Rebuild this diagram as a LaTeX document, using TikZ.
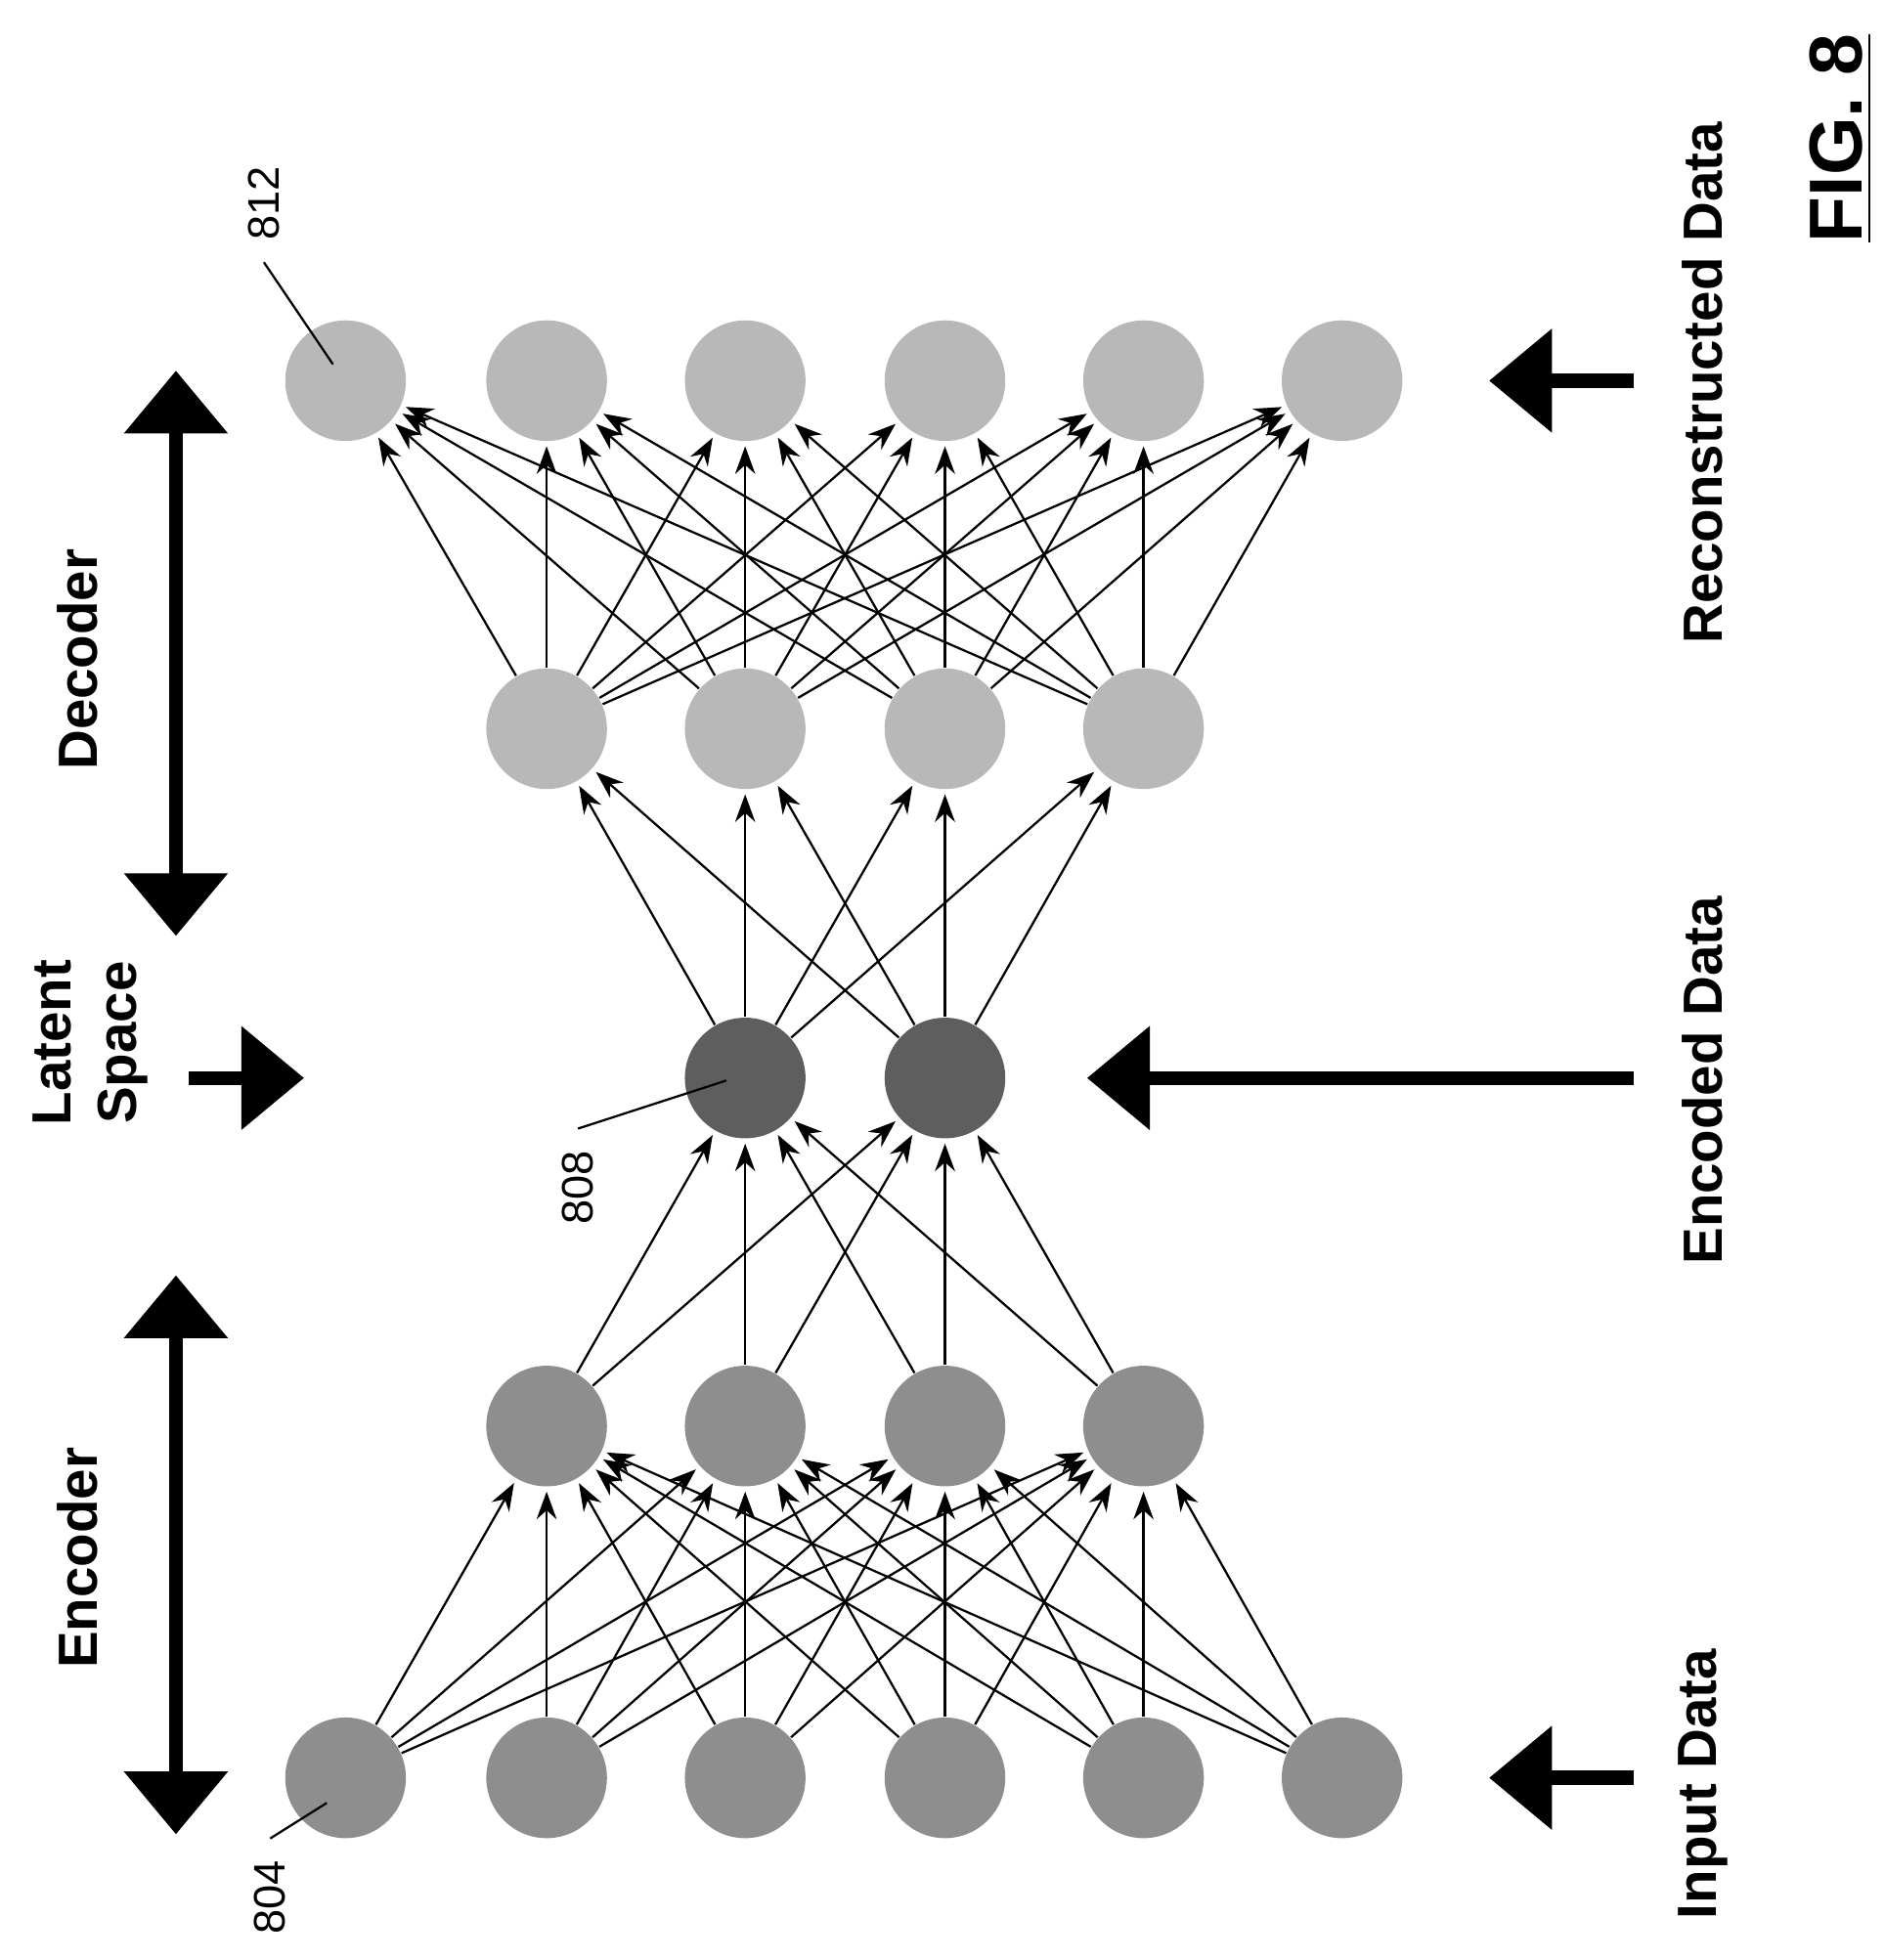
\documentclass[tikz,border=0pt]{standalone}
\usepackage{fontspec}
\setmainfont{Liberation Sans}
\usetikzlibrary{positioning}
\usetikzlibrary {arrows.meta}
\definecolor{encgray}{HTML}{8E8E8E}
\definecolor{latgray}{HTML}{5E5E5E}
\definecolor{decgray}{HTML}{B8B8B8}
\tikzset{neuron/.style={circle,draw=none,inner sep=0pt,minimum size=0.96cm}}
\tikzset{link/.style={line width=0.5pt,-{Stealth[length=2.2mm,width=1.6mm]},shorten >=1pt}}
\tikzset{bigarrow/.style={line width=3.2pt,-{Triangle[length=5mm,width=8mm]}}}
\tikzset{label/.style={rotate=90,font=\fontsize{12.5}{15}\selectfont\bfseries}}
\tikzset{refnum/.style={rotate=90,font=\fontsize{10}{12}\selectfont}}

\begin{document}
\begin{tikzpicture}
        \useasboundingbox (0,0) rectangle (15,-15.6);

        % layers
        \foreach \i/\x in {1/2.75,2/4.35,3/5.93,4/7.52,5/9.10,6/10.68} {
            \node[neuron,fill=encgray] (in\i) at (\x,-14.15) { };
            \node[neuron,fill=decgray] (out\i) at (\x,-3.03) { };
        }
        \foreach \i/\x in {1/4.35,2/5.93,3/7.52,4/9.10} {
            \node[neuron,fill=encgray] (enc\i) at (\x,-11.35) { };
            \node[neuron,fill=decgray] (dec\i) at (\x,-5.80) { };
        }
        \node[neuron,fill=latgray] (lat1) at (5.93,-8.58) { };
        \node[neuron,fill=latgray] (lat2) at (7.52,-8.58) { };

        % connections
        \foreach \i in {1,...,6} {
            \foreach \j in {1,...,4} {
                \draw [link] (in\i) -- (enc\j);
                \draw [link] (dec\j) -- (out\i);
            }
        }
        \foreach \j in {1,...,4} {
            \foreach \k in {1,2} {
                \draw [link] (enc\j) -- (lat\k);
                \draw [link] (lat\k) -- (dec\j);
            }
        }

        % left side
        \coordinate (encA) at (1.40,-10.15);
        \coordinate (encB) at (1.40,-14.60);
        \draw [line width=3.2pt,{Triangle[length=5mm,width=8mm]}-{Triangle[length=5mm,width=8mm]}] (encA) -- (encB);
        \coordinate (decA) at (1.40,-2.95);
        \coordinate (decB) at (1.40,-7.45);
        \draw [line width=3.2pt,{Triangle[length=5mm,width=8mm]}-{Triangle[length=5mm,width=8mm]}] (decA) -- (decB);
        \coordinate (latA) at (1.50,-8.58);
        \coordinate (latB) at (2.42,-8.58);
        \draw [bigarrow] (latA) -- (latB);
        \node[label] (encoder) at (0.62,-12.40) {Encoder};
        \node[label] (decoder) at (0.62,-5.25) {Decoder};
        \node[label,align=center] (latent) at (0.72,-8.30) {Latent\\Space};

        % right side
        \coordinate (inA) at (13.00,-14.15);
        \coordinate (inB) at (11.85,-14.15);
        \draw [bigarrow] (inA) -- (inB);
        \coordinate (codeA) at (13.00,-8.58);
        \coordinate (codeB) at (8.65,-8.58);
        \draw [bigarrow] (codeA) -- (codeB);
        \coordinate (recA) at (13.00,-3.03);
        \coordinate (recB) at (11.85,-3.03);
        \draw [bigarrow] (recA) -- (recB);
        \node[label] (inputtxt) at (13.55,-14.20) {Input Data};
        \node[label] (codetxt) at (13.55,-8.60) {Encoded Data};
        \node[label] (rectxt) at (13.55,-3.05) {Reconstructed Data};
        \node[rotate=90,font=\fontsize{17}{20}\selectfont\bfseries] (fig) at (14.65,-1.10) {\underline{FIG. 8}};

        % reference numerals
        \node[refnum] (n812) at (2.10,-1.62) {812};
        \coordinate (p812) at (2.65,-2.90);
        \draw [line width=0.5pt] (n812.west) ++(0,-0.05) -- (p812);
        \node[refnum] (n808) at (4.60,-9.45) {808};
        \coordinate (p808) at (5.78,-8.60);
        \draw [line width=0.5pt] (n808.east) ++(0,0.05) -- (p808);
        \node[refnum] (n804) at (2.15,-15.10) {804};
        \coordinate (p804) at (2.60,-14.35);
        \draw [line width=0.5pt] (n804.east) ++(0,0.05) -- (p804);

    \end{tikzpicture}
\end{document}
